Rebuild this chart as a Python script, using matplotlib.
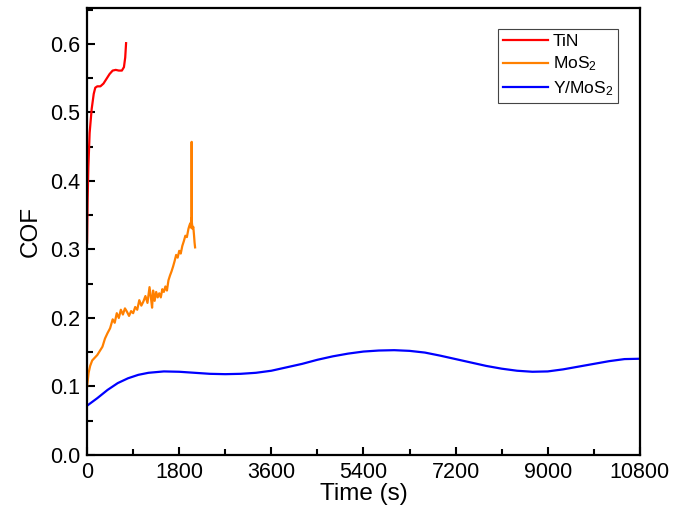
import numpy as np
import matplotlib
matplotlib.use("Agg")
from matplotlib import pyplot as plt
from matplotlib.ticker import MultipleLocator

# --- data ---
tin_t = [0, 10, 25, 50, 90, 130, 160, 200, 260, 320, 380, 440, 500, 560,
         620, 680, 720, 745, 762]
tin_cof = [0.31, 0.37, 0.42, 0.47, 0.505, 0.527, 0.536, 0.538, 0.538, 0.542,
           0.549, 0.556, 0.561, 0.562, 0.561, 0.561, 0.566, 0.58, 0.601]

mos2_t = [0, 30, 60, 100, 150, 200, 250, 300, 350, 400, 450, 500, 540, 580,
          620, 660, 700, 740, 780, 820, 860, 900, 940, 980, 1020, 1060, 1100,
          1140, 1180, 1220, 1250, 1270, 1290, 1320, 1350, 1380, 1410, 1440,
          1470, 1500, 1530, 1560, 1590, 1620, 1650, 1680, 1710, 1740, 1770,
          1800, 1830, 1860, 1890, 1920, 1950, 1980, 2000, 2015, 2025, 2035,
          2040, 2043, 2047, 2060, 2075, 2090, 2100, 2110]
mos2_cof = [0.10, 0.12, 0.13, 0.138, 0.142, 0.146, 0.152, 0.158, 0.170, 0.178,
            0.185, 0.198, 0.193, 0.207, 0.200, 0.212, 0.205, 0.214, 0.209,
            0.203, 0.210, 0.207, 0.216, 0.212, 0.226, 0.218, 0.224, 0.232,
            0.222, 0.245, 0.228, 0.215, 0.240, 0.225, 0.238, 0.230, 0.236,
            0.230, 0.242, 0.238, 0.246, 0.240, 0.255, 0.262, 0.268, 0.275,
            0.283, 0.292, 0.288, 0.298, 0.294, 0.305, 0.312, 0.320, 0.318,
            0.330, 0.335, 0.338, 0.332, 0.345, 0.340, 0.457, 0.340, 0.330,
            0.333, 0.320, 0.310, 0.303]

ymos2_t = [0, 200, 400, 600, 800, 1000, 1200, 1500, 1800, 2100, 2400, 2700,
           3000, 3300, 3600, 3900, 4200, 4500, 4800, 5100, 5400, 5700, 6000,
           6300, 6600, 6900, 7200, 7500, 7800, 8100, 8400, 8700, 9000, 9300,
           9600, 9900, 10200, 10500, 10800]
ymos2_cof = [0.072, 0.083, 0.095, 0.105, 0.112, 0.117, 0.120, 0.122, 0.1215,
             0.120, 0.1185, 0.118, 0.1185, 0.120, 0.123, 0.128, 0.133, 0.139,
             0.144, 0.148, 0.151, 0.1525, 0.153, 0.152, 0.1495, 0.145, 0.140,
             0.135, 0.130, 0.126, 0.123, 0.1215, 0.122, 0.125, 0.129, 0.133,
             0.137, 0.140, 0.1405]

x_ticks = [0, 1800, 3600, 5400, 7200, 9000, 10800]
y_ticks = [0.0, 0.1, 0.2, 0.3, 0.4, 0.5, 0.6]

plt.rcParams['font.family'] = ['Liberation Sans', 'DejaVu Sans']
plt.rcParams['mathtext.default'] = 'regular'

fig = plt.figure(figsize=(6.75, 5.13), dpi=100, facecolor='w')
ax = fig.add_axes([0.129, 0.113, 0.819, 0.871])

ax.plot(tin_t, tin_cof, color='#ff0000', lw=1.6, label='TiN')
ax.plot(mos2_t, mos2_cof, color='#ff8000', lw=1.6, label='MoS$_2$')
ax.plot(ymos2_t, ymos2_cof, color='#0000ff', lw=1.6, label='Y/MoS$_2$')

ax.set_xlim(0, 10800)
ax.set_ylim(0, 0.652)
ax.set_xticks(x_ticks)
ax.set_yticks(y_ticks)
ax.set_yticklabels([f"{v:.1f}" for v in y_ticks])
ax.xaxis.set_minor_locator(MultipleLocator(900))
ax.yaxis.set_minor_locator(MultipleLocator(0.05))
ax.tick_params(which='major', direction='in', length=6, width=1.5, labelsize=15.5, pad=5)
ax.tick_params(which='minor', direction='in', length=4, width=1.5)
for s in ax.spines.values():
    s.set_linewidth(1.6)

ax.set_xlabel("Time (s)", fontsize=17.5, labelpad=0)
ax.set_ylabel("COF", fontsize=17.5, labelpad=6)

leg = ax.legend(loc='upper right', bbox_to_anchor=(0.960, 0.953), fontsize=12.5,
                fancybox=False, edgecolor='#444444', framealpha=1,
                handlelength=2.6, handletextpad=0.3, borderpad=0.25,
                labelspacing=0.35, borderaxespad=0)
leg.get_frame().set_linewidth(0.8)

fig.savefig("out.png", dpi=100)
